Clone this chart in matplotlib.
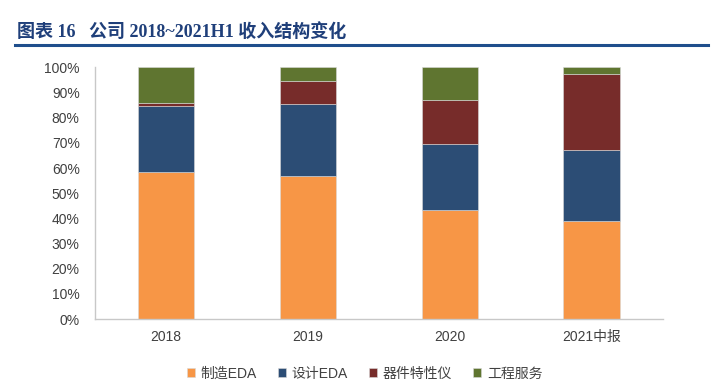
import numpy as np
import matplotlib.pyplot as plt
from matplotlib.ticker import PercentFormatter
from matplotlib.lines import Line2D

plt.rcParams['font.family'] = ['Liberation Sans', 'Noto Sans CJK SC', 'DejaVu Sans']

# 收入结构（%）
years = ['2018', '2019', '2020', '2021中报']
names = ['制造EDA', '设计EDA', '器件特性仪', '工程服务']
zhizao = [58.4, 56.8, 43.5, 38.9]
sheji = [26.2, 28.8, 25.9, 28.2]
qijian = [1.4, 9.1, 17.6, 30.3]
gongcheng = [14.0, 5.3, 13.0, 2.6]
colors = ['#F79646', '#2C4D75', '#772C2A', '#5F7530']

fig = plt.figure(figsize=(7.28, 3.8), dpi=100)
ax = fig.add_axes([0.1305, 0.1605, 0.78, 0.662])

x = np.arange(len(years))
bottom = np.zeros(len(years))
for vals, name, c in zip([zhizao, sheji, qijian, gongcheng], names, colors):
    ax.bar(x, vals, 0.4, bottom=bottom, color=c, label=name,
           edgecolor='#d9d9d9', linewidth=0.4)
    bottom += np.array(vals)

ax.set_xlim(-0.5, 3.5)
ax.set_ylim(0, 100)
ax.set_yticks(np.arange(0, 101, 10))
ax.yaxis.set_major_formatter(PercentFormatter(decimals=0))
ax.set_xticks(x)
ax.set_xticklabels(years)
ax.tick_params(length=0, labelsize=10, colors='#404040')
ax.tick_params(axis='x', pad=8)
ax.tick_params(axis='y', pad=11)
for s in ['top', 'right']:
    ax.spines[s].set_visible(False)
for s in ['left', 'bottom']:
    ax.spines[s].set_color('#c8c8c8')
    ax.spines[s].set_linewidth(1)

ax.legend(loc='upper center', bbox_to_anchor=(0.475, -0.14), ncol=4, frameon=False,
          fontsize=10, handlelength=0.6, handleheight=0.6, handletextpad=0.4,
          columnspacing=1.5, labelcolor='#404040')

# 标题
fig.text(0.024, 0.915, '图表 16   公司 2018~2021H1 收入结构变化', fontsize=13,
         fontweight='bold', color='#1F3F7A', va='center',
         family=['Liberation Serif', 'Noto Sans CJK SC', 'DejaVu Sans'])
fig.add_artist(Line2D([0.021, 0.973], [0.882, 0.882], color='#1F4E8C', lw=2.2))

fig.savefig('out.png', dpi=100)
